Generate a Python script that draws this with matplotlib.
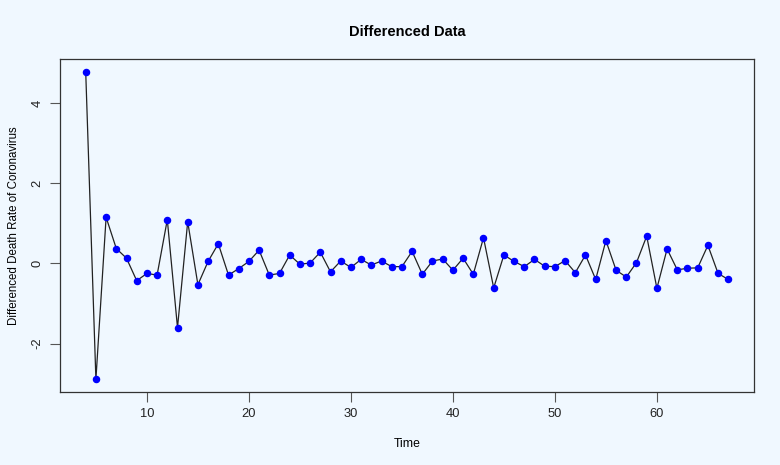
import numpy as np
import matplotlib
matplotlib.use("Agg")
from matplotlib import pyplot as plt

plt.rcParams['font.family'] = ['Liberation Sans', 'DejaVu Sans']

#------------------------------------------------------------
# differenced series
time = np.arange(4, 68)
diff_rate = [4.78, -2.89, 1.15, 0.37, 0.13, -0.43, -0.25, -0.29, 1.09, -1.60,
             1.04, -0.53, 0.05, 0.49, -0.29, -0.13, 0.05, 0.33, -0.29, -0.25,
             0.21, -0.02, 0.01, 0.28, -0.21, 0.06, -0.10, 0.10, -0.04, 0.06,
             -0.08, -0.08, 0.30, -0.27, 0.06, 0.11, -0.17, 0.13, -0.27, 0.64,
             -0.61, 0.21, 0.05, -0.08, 0.10, -0.07, -0.08, 0.07, -0.23, 0.21,
             -0.40, 0.57, -0.17, -0.34, 0.02, 0.68, -0.62, 0.36, -0.16, -0.12,
             -0.11, 0.45, -0.25, -0.40]
xticks = [10, 20, 30, 40, 50, 60]
yticks = [-2, 0, 2, 4]

bg = '#F0F8FF'
frame = '#333333'

#------------------------------------------------------------
fig = plt.figure(figsize=(7.8, 4.65), dpi=100, facecolor=bg)
ax = fig.add_axes([60 / 780, 1 - 391.7 / 465, 694 / 780, 332.4 / 465])
ax.set_facecolor(bg)

ax.plot(time, diff_rate, color='#222222', lw=0.9, zorder=1)
ax.plot(time, diff_rate, 'o', color='blue', ms=4.4, mec='blue', zorder=2)

# R style 4% padding
xr = time.max() - time.min()
yr = max(diff_rate) - min(diff_rate)
ax.set_xlim(time.min() - 0.04 * xr, time.max() + 0.04 * xr)
ax.set_ylim(min(diff_rate) - 0.04 * yr, max(diff_rate) + 0.04 * yr)

ax.set_xticks(xticks)
ax.set_yticks(yticks)
ax.set_yticklabels([str(v) for v in yticks], rotation=90, va='center')
ax.tick_params(direction='out', length=7, width=0.8, color='#555555',
               labelsize=9.3, pad=5, labelcolor='#222222')

for s in ax.spines.values():
    s.set_color(frame)
    s.set_linewidth(0.9)

ax.set_title('Differenced Data', fontsize=10.5, fontweight='bold', pad=17)
ax.set_xlabel('Time', fontsize=8.8, labelpad=13)
ax.set_ylabel('Differenced Death Rate of Coronavirus', fontsize=8.3, labelpad=8)

fig.savefig('out.png', dpi=100, facecolor=bg)
